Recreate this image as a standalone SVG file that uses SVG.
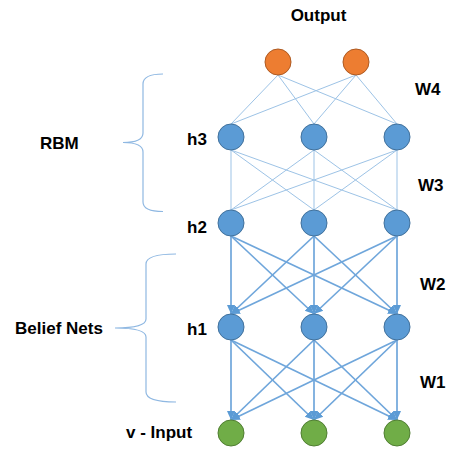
<svg xmlns="http://www.w3.org/2000/svg" width="449" height="449" viewBox="0 0 449 449">
  <style>
    .lbl { font-family: "Liberation Sans", Arial, sans-serif; font-weight: bold; font-size: 17px; fill: #000; }
    .thin { stroke: #9DC3E6; stroke-width: 1; fill: none; }
    .dir { stroke: #6FA6DB; stroke-width: 1.7; fill: none; marker-end: url(#arr); }
    .brace { stroke: #8FB8E2; stroke-width: 1.2; fill: none; }
    .hid { fill: #5B9BD5; stroke: #41719C; stroke-width: 1; }
    .out { fill: #ED7D31; stroke: #AE5A21; stroke-width: 1; }
    .vis { fill: #70AD47; stroke: #507E32; stroke-width: 1; }
  </style>
  <defs>
    <marker id="arr" markerUnits="userSpaceOnUse" markerWidth="10" markerHeight="10" viewBox="0 0 10 10" refX="9" refY="5" orient="auto">
      <path d="M0,1 L9,5 L0,9 z" fill="#5B9BD5"/>
    </marker>
  </defs>

  <rect width="449" height="449" fill="#fff"/>

  <!-- connectors -->
  <g id="connectors">
    <!-- W4: output to h3 -->
    <g id="w4">
      <line class="thin" x1="278" y1="75" x2="231" y2="124"/>
      <line class="thin" x1="278" y1="75" x2="314" y2="124"/>
      <line class="thin" x1="278" y1="75" x2="397" y2="124"/>
      <line class="thin" x1="356" y1="75" x2="231" y2="124"/>
      <line class="thin" x1="356" y1="75" x2="314" y2="124"/>
      <line class="thin" x1="356" y1="75" x2="397" y2="124"/>
    </g>
    <!-- W3: h3 to h2 -->
    <g id="w3">
      <line class="thin" x1="231" y1="150" x2="231" y2="210"/>
      <line class="thin" x1="231" y1="150" x2="314" y2="210"/>
      <line class="thin" x1="231" y1="150" x2="397" y2="210"/>
      <line class="thin" x1="314" y1="150" x2="231" y2="210"/>
      <line class="thin" x1="314" y1="150" x2="314" y2="210"/>
      <line class="thin" x1="314" y1="150" x2="397" y2="210"/>
      <line class="thin" x1="397" y1="150" x2="231" y2="210"/>
      <line class="thin" x1="397" y1="150" x2="314" y2="210"/>
      <line class="thin" x1="397" y1="150" x2="397" y2="210"/>
    </g>
    <!-- W2: h2 to h1, directed -->
    <g id="w2">
      <line class="dir" x1="231" y1="236" x2="231" y2="314"/>
      <line class="dir" x1="231" y1="236" x2="314" y2="314"/>
      <line class="dir" x1="231" y1="236" x2="397" y2="314"/>
      <line class="dir" x1="314" y1="236" x2="231" y2="314"/>
      <line class="dir" x1="314" y1="236" x2="314" y2="314"/>
      <line class="dir" x1="314" y1="236" x2="397" y2="314"/>
      <line class="dir" x1="397" y1="236" x2="231" y2="314"/>
      <line class="dir" x1="397" y1="236" x2="314" y2="314"/>
      <line class="dir" x1="397" y1="236" x2="397" y2="314"/>
    </g>
    <!-- W1: h1 to v, directed -->
    <g id="w1">
      <line class="dir" x1="231" y1="340" x2="231" y2="420"/>
      <line class="dir" x1="231" y1="340" x2="314" y2="420"/>
      <line class="dir" x1="231" y1="340" x2="397" y2="420"/>
      <line class="dir" x1="314" y1="340" x2="231" y2="420"/>
      <line class="dir" x1="314" y1="340" x2="314" y2="420"/>
      <line class="dir" x1="314" y1="340" x2="397" y2="420"/>
      <line class="dir" x1="397" y1="340" x2="231" y2="420"/>
      <line class="dir" x1="397" y1="340" x2="314" y2="420"/>
      <line class="dir" x1="397" y1="340" x2="397" y2="420"/>
    </g>
  </g>

  <!-- braces -->
  <g id="rbm">
    <path class="brace" d="M163,74 Q143,74 143,84 L143,133 Q143,142.5 123,142.5 Q143,142.5 143,152 L143,202 Q143,211.5 163,211.5"/>
    <text class="lbl" x="40" y="149">RBM</text>
  </g>
  <g id="belief-nets">
    <path class="brace" d="M176,254 Q146,254 146,264 L146,319 Q146,328 115,328 Q146,328 146,337 L146,392 Q146,402 176,402"/>
    <text class="lbl" x="15" y="334">Belief Nets</text>
  </g>

  <!-- layer labels -->
  <g id="labels">
    <text class="lbl" x="318.5" y="21" text-anchor="middle">Output</text>
    <text class="lbl" x="187" y="145">h3</text>
    <text class="lbl" x="187" y="233">h2</text>
    <text class="lbl" x="187" y="335">h1</text>
    <text class="lbl" x="126" y="438">v - Input</text>
    <text class="lbl" x="415" y="95">W4</text>
    <text class="lbl" x="418" y="191">W3</text>
    <text class="lbl" x="420" y="290">W2</text>
    <text class="lbl" x="420" y="388">W1</text>
  </g>

  <!-- output layer -->
  <g id="out1"><circle class="out" cx="278" cy="62" r="13"/></g>
  <g id="out2"><circle class="out" cx="356" cy="62" r="13"/></g>

  <!-- h3 layer -->
  <g id="h3a"><circle class="hid" cx="231" cy="137" r="13"/></g>
  <g id="h3b"><circle class="hid" cx="314" cy="137" r="13"/></g>
  <g id="h3c"><circle class="hid" cx="397" cy="137" r="13"/></g>

  <!-- h2 layer -->
  <g id="h2a"><circle class="hid" cx="231" cy="223" r="13"/></g>
  <g id="h2b"><circle class="hid" cx="314" cy="223" r="13"/></g>
  <g id="h2c"><circle class="hid" cx="397" cy="223" r="13"/></g>

  <!-- h1 layer -->
  <g id="h1a"><circle class="hid" cx="231" cy="327" r="13"/></g>
  <g id="h1b"><circle class="hid" cx="314" cy="327" r="13"/></g>
  <g id="h1c"><circle class="hid" cx="397" cy="327" r="13"/></g>

  <!-- visible layer -->
  <g id="v1"><circle class="vis" cx="231" cy="433" r="13"/></g>
  <g id="v2"><circle class="vis" cx="314" cy="433" r="13"/></g>
  <g id="v3"><circle class="vis" cx="397" cy="433" r="13"/></g>
</svg>
